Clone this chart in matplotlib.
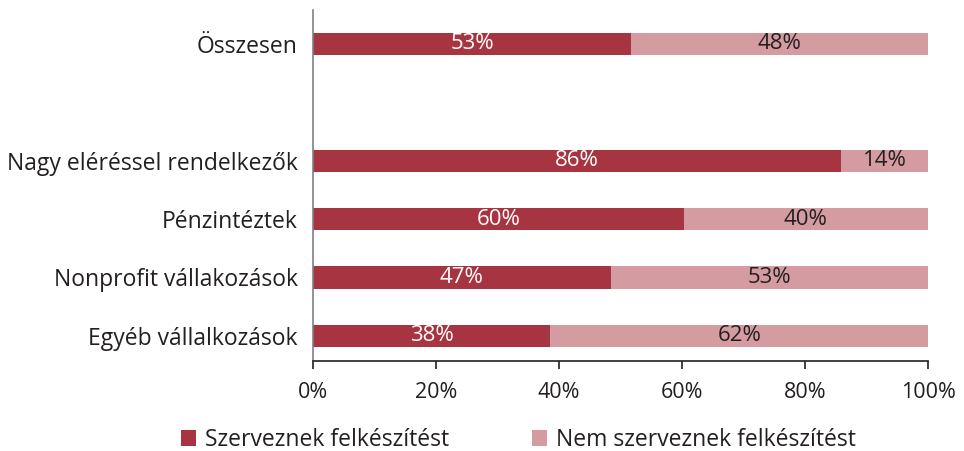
import matplotlib
matplotlib.use("Agg")
import matplotlib.pyplot as plt
from matplotlib.patches import Patch

plt.rcParams['font.family'] = ['Open Sans', 'DejaVu Sans']

categories = ["Egyéb vállalkozások", "Nonprofit vállakozások", "Pénzintéztek",
              "Nagy eléréssel rendelkezők", "Összesen"]
positions = [0, 1, 2, 3, 5]
szerveznek = [38.6, 48.4, 60.3, 85.9, 51.7]
nem_szerveznek = [61.4, 51.6, 39.7, 14.1, 48.3]
szerveznek_labels = ["38%", "47%", "60%", "86%", "53%"]
nem_labels = ["62%", "53%", "40%", "14%", "48%"]
xticks = [0, 20, 40, 60, 80, 100]
xtick_labels = ["0%", "20%", "40%", "60%", "80%", "100%"]
series_names = ["Szerveznek felkészítést", "Nem szerveznek felkészítést"]

dark = "#A63541"
light = "#D49BA0"
txt = "#231F20"

fig = plt.figure(figsize=(9.64, 4.51), dpi=100)
ax = fig.add_axes([313/964, 1 - 361/451, 615/964, 351/451])

h = 0.38
ax.barh(positions, szerveznek, height=h, color=dark, edgecolor='none')
ax.barh(positions, nem_szerveznek, left=szerveznek, height=h, color=light, edgecolor='none')

for p, a, b, la, lb in zip(positions, szerveznek, nem_szerveznek, szerveznek_labels, nem_labels):
    ax.text(a / 2, p, la, ha='center', va='center', color='white', fontsize=16)
    ax.text(a + b / 2, p, lb, ha='center', va='center', color=txt, fontsize=16)

ax.set_xlim(0, 100)
ax.set_ylim(-0.43, 5.58)
ax.set_xticks(xticks)
ax.set_xticklabels(xtick_labels, fontsize=15.5, color=txt)
ax.set_yticks(positions)
ax.set_yticklabels(categories, fontsize=16.5, color=txt)
ax.tick_params(axis='y', length=0, pad=11)
ax.tick_params(axis='x', direction='out', length=6, width=1.2, color=txt, pad=9)

for s in ['top', 'right']:
    ax.spines[s].set_visible(False)
ax.spines['left'].set_color('#808080')
ax.spines['left'].set_linewidth(1.2)
ax.spines['bottom'].set_color(txt)
ax.spines['bottom'].set_linewidth(1.2)

handles = [Patch(facecolor=dark, edgecolor='none'), Patch(facecolor=light, edgecolor='none')]
leg = fig.legend(handles, series_names, loc='center', bbox_to_anchor=(0.538, 1 - 440/451),
                 ncol=2, frameon=False, fontsize=16.5, handlelength=0.65, handleheight=0.65,
                 columnspacing=3.6, handletextpad=0.4, borderaxespad=0, borderpad=0)
for t in leg.get_texts():
    t.set_color(txt)

fig.savefig("out.png", dpi=100)
